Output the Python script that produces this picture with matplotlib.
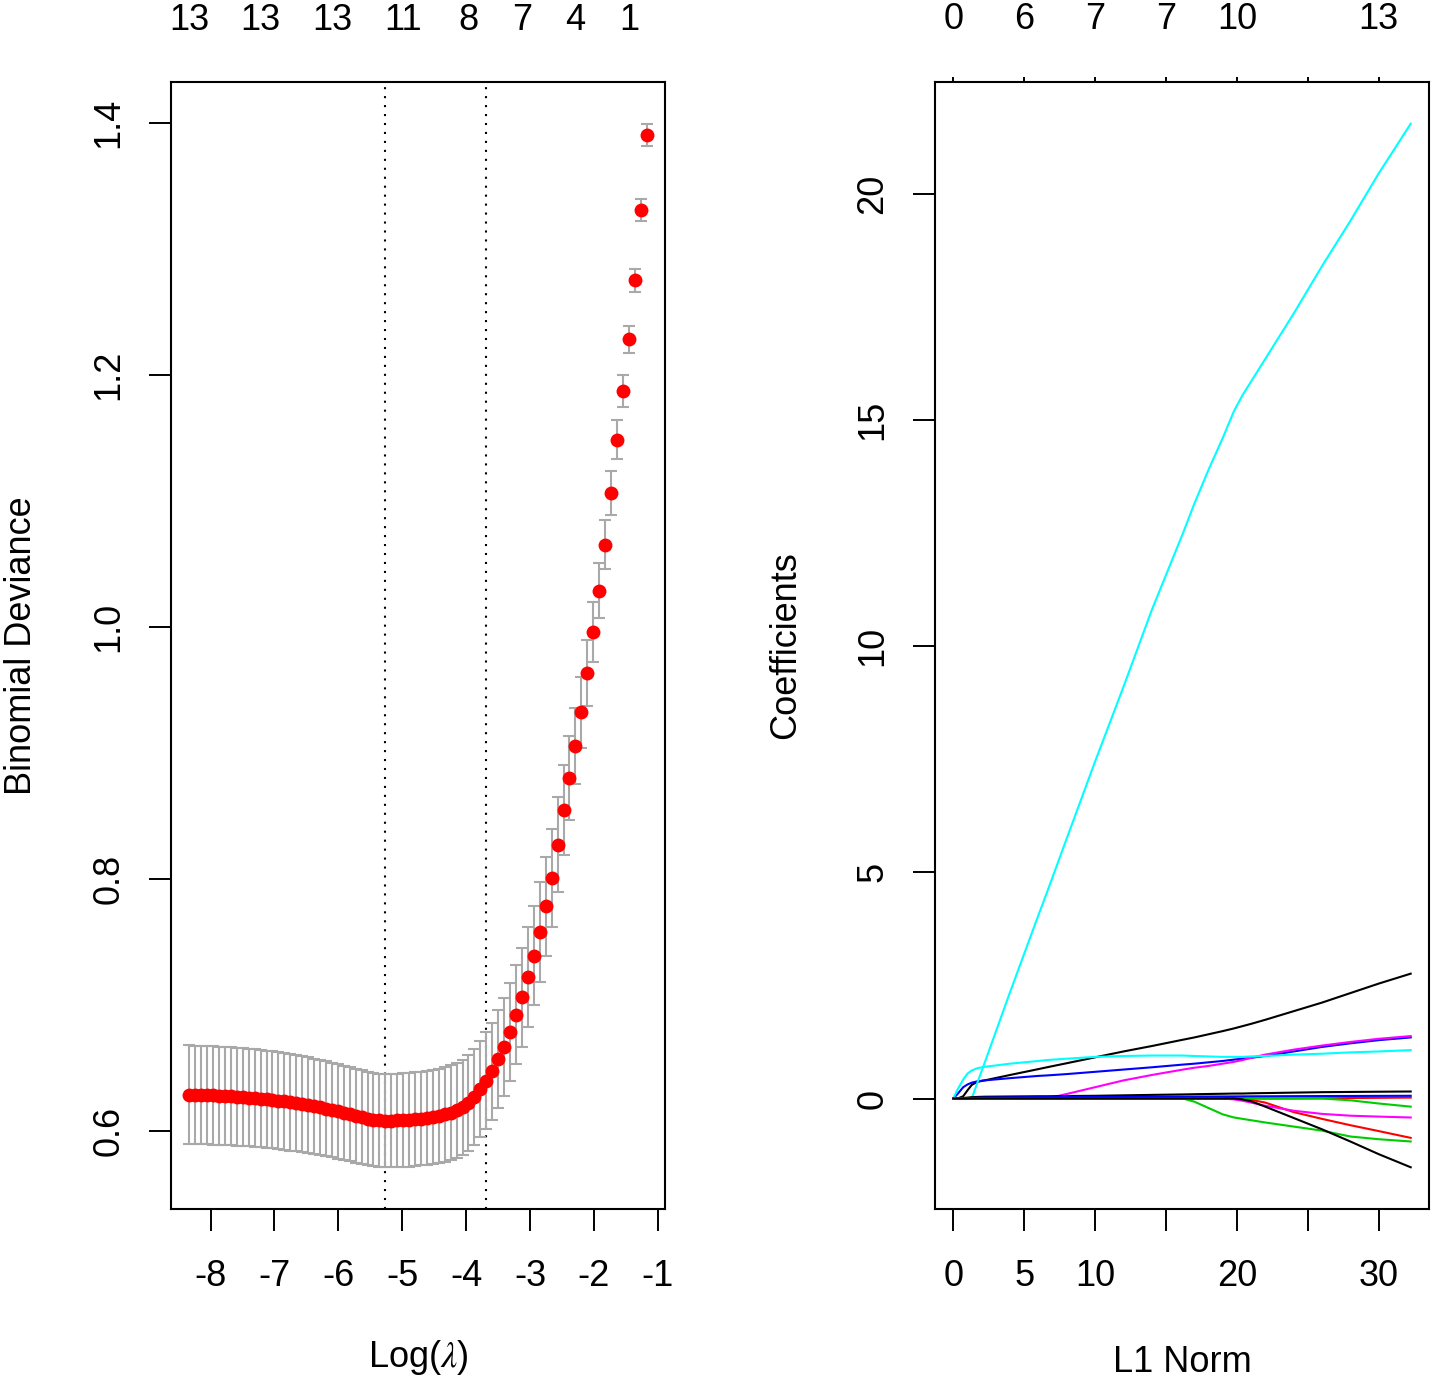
import matplotlib
matplotlib.use("Agg")
import matplotlib.pyplot as plt
import numpy as np

plt.rcParams['font.family'] = ['Liberation Sans', 'DejaVu Sans']
plt.rcParams['mathtext.fontset'] = 'stix'
plt.rcParams['axes.unicode_minus'] = False
FS = 26

# ---- left panel: cross-validated binomial deviance ----
log_lambda = [
    -8.333, -8.240, -8.147, -8.054, -7.961, -7.868, -7.775, -7.682, -7.589, -7.496,
    -7.403, -7.310, -7.217, -7.124, -7.031, -6.938, -6.845, -6.752, -6.659, -6.566,
    -6.473, -6.380, -6.287, -6.194, -6.101, -6.008, -5.915, -5.822, -5.729, -5.636,
    -5.543, -5.450, -5.357, -5.264, -5.171, -5.078, -4.985, -4.892, -4.799, -4.706,
    -4.613, -4.520, -4.427, -4.334, -4.241, -4.148, -4.055, -3.962, -3.869, -3.776,
    -3.683, -3.590, -3.497, -3.404, -3.311, -3.218, -3.125, -3.032, -2.939, -2.846,
    -2.753, -2.660, -2.567, -2.474, -2.381, -2.288, -2.195, -2.102, -2.009, -1.916,
    -1.823, -1.730, -1.637, -1.544, -1.451, -1.358, -1.265, -1.172]
cv_mean = [
    0.6284, 0.6283, 0.6282, 0.6281, 0.6279, 0.6277, 0.6275, 0.6272, 0.6269, 0.6266,
    0.6262, 0.6258, 0.6254, 0.6249, 0.6244, 0.6238, 0.6232, 0.6225, 0.6218, 0.6210,
    0.6202, 0.6193, 0.6184, 0.6174, 0.6164, 0.6153, 0.6141, 0.6129, 0.6117, 0.6106,
    0.6096, 0.6088, 0.6082, 0.6079, 0.6080, 0.6081, 0.6083, 0.6086, 0.6090, 0.6095,
    0.6101, 0.6108, 0.6117, 0.6128, 0.6142, 0.6160, 0.6185, 0.6218, 0.6265, 0.6331,
    0.6397, 0.6471, 0.6567, 0.6667, 0.6784, 0.6919, 0.7057, 0.7218, 0.7390, 0.7576,
    0.7780, 0.8007, 0.8270, 0.8542, 0.8799, 0.9053, 0.9320, 0.9636, 0.9956, 1.0288,
    1.0653, 1.1063, 1.1487, 1.1870, 1.2284, 1.2750, 1.3310, 1.3905]
cv_se = [
    0.0392, 0.0392, 0.0391, 0.0391, 0.0390, 0.0390, 0.0389, 0.0389, 0.0388, 0.0388,
    0.0387, 0.0387, 0.0386, 0.0386, 0.0385, 0.0384, 0.0384, 0.0383, 0.0382, 0.0381,
    0.0380, 0.0379, 0.0378, 0.0377, 0.0376, 0.0375, 0.0374, 0.0373, 0.0372, 0.0372,
    0.0371, 0.0371, 0.0370, 0.0370, 0.0370, 0.0370, 0.0371, 0.0371, 0.0372, 0.0372,
    0.0373, 0.0374, 0.0375, 0.0376, 0.0377, 0.0378, 0.0379, 0.0380, 0.0381, 0.0382,
    0.0383, 0.0385, 0.0387, 0.0389, 0.0391, 0.0393, 0.0395, 0.0396, 0.0396, 0.0395,
    0.0393, 0.0390, 0.0377, 0.0357, 0.0331, 0.0305, 0.0283, 0.0262, 0.0238, 0.0217,
    0.0196, 0.0176, 0.0151, 0.0127, 0.0108, 0.0093, 0.0087, 0.0089]
lambda_min = -5.264
lambda_1se = -3.683
top_left_pos = [-8.333, -7.217, -6.101, -4.985, -3.962, -3.125, -2.288, -1.451]
top_left_lab = ['13', '13', '13', '11', '8', '7', '4', '1']

# ---- right panel: coefficient paths ----
l1_norm = [0, 0.3, 0.7, 1.0, 1.3, 1.7, 2.2, 4, 6, 6.6, 8, 10, 12, 14, 16.2, 17, 18,
           19, 19.8, 20.4, 21, 22, 24, 26, 28, 30, 32.26]
coefs = [
    # var1 black
    [0, 0, 0.05, 0.18, 0.30, 0.37, 0.40, 0.52, 0.65, 0.69, 0.78, 0.91, 1.04, 1.16, 1.30,
     1.35, 1.42, 1.49, 1.55, 1.60, 1.65, 1.74, 1.93, 2.12, 2.33, 2.54, 2.76],
    # var2 red
    [0, 0, 0, 0, 0, 0, 0, 0, 0, 0, 0, 0, 0, 0, 0, 0, 0, 0, 0, 0,
     -0.03, -0.09, -0.30, -0.45, -0.59, -0.72, -0.87],
    # var3 green
    [0, 0, 0, 0, 0, 0, 0, 0, 0, 0, 0, 0, 0, 0, 0, -0.07, -0.21, -0.35, -0.42, -0.45,
     -0.48, -0.53, -0.62, -0.71, -0.84, -0.90, -0.95],
    # var4 blue
    [0, 0.10, 0.25, 0.31, 0.35, 0.38, 0.40, 0.45, 0.50, 0.51, 0.54, 0.59, 0.64, 0.69, 0.75,
     0.77, 0.80, 0.83, 0.86, 0.88, 0.90, 0.94, 1.04, 1.14, 1.22, 1.29, 1.35],
    # var5 cyan
    [0, 0, 0, 0, 0, 0.35, 0.78, 2.35, 4.05, 4.55, 5.75, 7.45, 9.10, 10.80, 12.50,
     13.15, 13.90, 14.60, 15.20, 15.55, 15.85, 16.35, 17.35, 18.40, 19.40, 20.45, 21.55],
    # var6 magenta
    [0, 0, 0, 0, 0, 0, 0, 0, 0, 0, 0.10, 0.25, 0.40, 0.52, 0.64, 0.68, 0.72, 0.77,
     0.81, 0.85, 0.90, 0.97, 1.08, 1.17, 1.25, 1.32, 1.38],
    # var7 black
    [0, 0, 0.01, 0.02, 0.03, 0.035, 0.04, 0.045, 0.05, 0.05, 0.055, 0.06, 0.07, 0.08,
     0.09, 0.095, 0.10, 0.105, 0.11, 0.11, 0.115, 0.12, 0.13, 0.14, 0.145, 0.15, 0.155],
    # var8 red
    [0, 0, 0, 0, 0, 0, 0, 0, 0, 0, 0, 0, 0, 0, 0, 0, 0, 0, 0, 0, 0, 0, 0,
     0.005, 0.01, 0.015, 0.02],
    # var9 green
    [0, 0, 0, 0, 0, 0, 0, 0, 0, 0, 0, 0, 0, 0, 0, 0, 0, 0, 0, 0, 0, 0, 0, 0,
     -0.04, -0.11, -0.18],
    # var10 blue
    [0, 0, 0, 0, 0.01, 0.015, 0.02, 0.025, 0.03, 0.03, 0.032, 0.035, 0.037, 0.04, 0.042,
     0.043, 0.044, 0.045, 0.046, 0.047, 0.048, 0.049, 0.052, 0.054, 0.056, 0.058, 0.06],
    # var11 cyan
    [0, 0.20, 0.42, 0.55, 0.62, 0.67, 0.70, 0.77, 0.83, 0.85, 0.88, 0.92, 0.94, 0.95,
     0.95, 0.94, 0.93, 0.92, 0.92, 0.92, 0.93, 0.94, 0.97, 0.99, 1.02, 1.04, 1.07],
    # var12 magenta
    [0, 0, 0, 0, 0, 0, 0, 0, 0, 0, 0, 0, 0, 0, 0, 0, 0, 0, -0.02, -0.05, -0.09,
     -0.16, -0.27, -0.34, -0.38, -0.40, -0.42],
    # var13 black
    [0, 0, 0, 0, 0, 0, 0, 0, 0, 0, 0, 0, 0, 0, 0, 0, 0, 0, 0, -0.02, -0.06, -0.18,
     -0.43, -0.68, -0.95, -1.23, -1.52],
]
path_colors = ['black', '#FF0000', '#00CD00', '#0000FF', '#00FFFF', '#FF00FF'] * 2 + ['black']
bottom_right_ticks = [0, 5, 10, 15, 20, 25, 30]
bottom_right_lab = ['0', '5', '10', '', '20', '', '30']
top_right_lab = ['0', '6', '7', '7', '10', '', '13']

fig = plt.figure(figsize=(14.35, 13.81), dpi=100)
W, H = 1435, 1381


def box(x0, x1, y0, y1):
    return [x0 / W, 1 - y1 / H, (x1 - x0) / W, (y1 - y0) / H]


def style(ax):
    for s in ax.spines.values():
        s.set_linewidth(1.5)
    ax.tick_params(axis='both', direction='out', length=16, width=1.4,
                   labelsize=FS, color='black')
    ax.tick_params(axis='x', pad=20)
    ax.tick_params(axis='y', pad=16)
    ax.margins(x=0.04, y=0.04)


# left
ax1 = fig.add_axes(box(171, 665, 82, 1209))
style(ax1)
ax1.errorbar(log_lambda, cv_mean, yerr=cv_se, fmt='none', ecolor='#A9A9A9',
             elinewidth=1.5, capsize=4, capthick=1.5, zorder=2)
ax1.plot(log_lambda, cv_mean, 'o', color='#FF0000', markersize=10, markeredgewidth=0,
         zorder=3)
ax1.axvline(lambda_min, color='black', lw=1.5, ls=(0, (1, 3.3)), zorder=1)
ax1.axvline(lambda_1se, color='black', lw=1.5, ls=(0, (1, 3.3)), zorder=1)
ax1.set_xticks(range(-8, 0))
ax1.set_yticks([0.6, 0.8, 1.0, 1.2, 1.4])
ax1.set_yticklabels(['0.6', '0.8', '1.0', '1.2', '1.4'])
plt.setp(ax1.get_yticklabels(), rotation=90, va='center')
ax1.set_xlabel('Log($\\lambda$)', fontsize=FS, labelpad=32)
ax1.set_ylabel('Binomial Deviance', fontsize=FS, labelpad=38)
sec1 = ax1.secondary_xaxis('top')
sec1.set_xticks(top_left_pos)
sec1.set_xticklabels(top_left_lab)
sec1.tick_params(length=0, pad=32, labelsize=FS)
sec1.spines['top'].set_visible(False)

# right
ax2 = fig.add_axes(box(935, 1429, 82, 1209))
style(ax2)
for c, col in zip(coefs, path_colors):
    ax2.plot(l1_norm, c, color=col, lw=1.5)
ax2.set_xticks(bottom_right_ticks)
ax2.set_xticklabels(bottom_right_lab)
ax2.set_yticks([0, 5, 10, 15, 20])
ax2.set_yticklabels(['0', '5', '10', '15', '20'])
plt.setp(ax2.get_yticklabels(), rotation=90, va='center')
ax2.set_xlabel('L1 Norm', fontsize=FS, labelpad=37)
ax2.set_ylabel('Coefficients', fontsize=FS, labelpad=38)
sec2 = ax2.secondary_xaxis('top')
sec2.set_xticks(bottom_right_ticks)
sec2.set_xticklabels(top_right_lab)
sec2.tick_params(length=3.6, width=1.4, pad=29, labelsize=FS)
sec2.spines['top'].set_visible(False)

fig.savefig('out.png', dpi=100)
